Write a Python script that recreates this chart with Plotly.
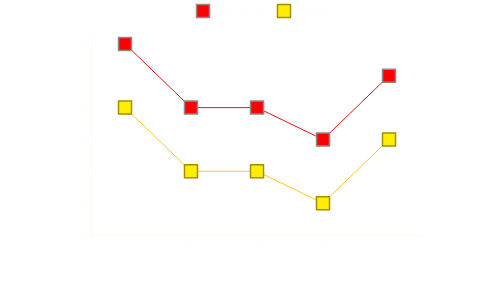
import plotly.graph_objects as go

categories = ["1", "2", "3", "4", "5"]
series_a = [6, 4, 4, 3, 5]
series_b = [4, 2, 2, 1, 3]
names = ["Series 1", "Series 2"]

styles = [
    dict(line="#ee1111", fill="#ff0000", edge="#8a8a8a"),
    dict(line="#ffc82a", fill="#ffee00", edge="#a88c00"),
]

fig = go.Figure()
for vals, st in zip([series_a, series_b], styles):
    fig.add_trace(go.Scatter(
        x=categories, y=vals, mode="lines", showlegend=False, hoverinfo="skip",
        line=dict(color=st["line"], width=1),
    ))
for vals, name, st in zip([series_a, series_b], names, styles):
    fig.add_trace(go.Scatter(
        x=categories, y=vals, name=name, mode="markers",
        marker=dict(symbol="square", size=13, color=st["fill"],
                    line=dict(color=st["edge"], width=1.5)),
    ))

fig.update_layout(
    width=488, height=301,
    margin=dict(l=92, r=66, t=35, b=66, autoexpand=False),
    paper_bgcolor="white", plot_bgcolor="white",
    showlegend=True,
    legend=dict(orientation="h", xref="container", yref="container",
                x=0.375, xanchor="left", y=0.9635, yanchor="middle",
                font=dict(color="#fefefe", size=10, family="DejaVu Sans"),
                bgcolor="rgba(0,0,0,0)", entrywidth=36, entrywidthmode="pixels",
                tracegroupgap=0),
    font=dict(family="DejaVu Sans", size=10, color="#fdfdf6"),
)
fig.update_xaxes(type="category", range=[-0.5, 4.5], showgrid=False, zeroline=False,
                 showline=True, linecolor="#fbfbf2", linewidth=1,
                 tickfont=dict(color="#fefefb"), ticks="")
fig.update_yaxes(range=[0, 6.28], showgrid=False, zeroline=False,
                 showline=True, linecolor="#fbfbf2", linewidth=1,
                 tickfont=dict(color="#fefefb"), ticks="", dtick=1)

fig.write_html("out.html")
